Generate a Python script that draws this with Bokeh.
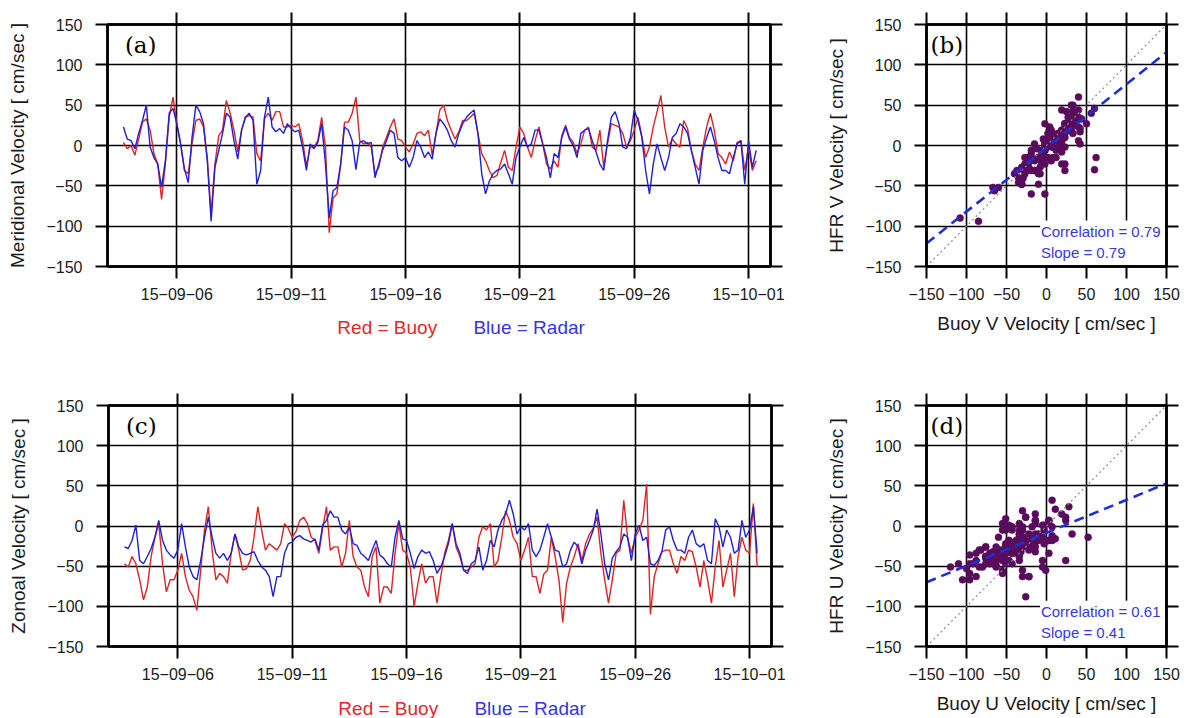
import numpy as np
from bokeh.plotting import figure
from bokeh.models import (LinearAxis, FixedTicker, Label, BoxAnnotation, Range1d,
                          CustomLabelingPolicy)
from bokeh.layouts import column, row
from bokeh.embed import file_html
from bokeh.resources import INLINE

# ---------------- data ----------------
# sampling: every 4 hours starting 2015-09-03 16:00 (x in day-of-September, Oct 1 = 31)
start_day = 3.6667
step_day = 1.0 / 6.0

# Meridional (V) velocity, cm/s
buoy_v = [4, -4, 0, -12, 8, 29, 33, 19, -10, -23, -67, -23, 35, 60, 27, 2, -31, -35, 2, 31, 33, 23, -15, -85, -23,
          12, 19, 56, 40, 19, -8, 19, 35, 37, 35, -10, -19, 33, 40, 31, 42, 42, 23, 23, 25, 23, 27, 6, -25, -2,
          -2, 6, 35, -2, -108,
          -65, -60, -23, 29, 29, 40, 60, 6, 2, 4, -2, -35, -27, -2, 10, 23, 33, 8, 6, -2, -8, 2, 15, 17, 12,
          19, -12, 15, 44, 50, 31, 19, 8, 17, 31, 31, 35, 40, 15, -10, -19, -31, -40, -37, -21, -6, -27, -31, -2,
          23, 15, -2, -15, 6, 23, 2,
          -23, -29, -19, -27, 12, 25, 10, 4, -10, 2, 19, 23, -2, -6, 19, -27, 2, 27, 25, 23, 15, -2, 6, 19, 35,
          12, -15, -2, 23, 42, 62, 23, -2, 8, 2, -2, 31, 21, -6, -23, -31, -2, 23, 40, 19, -10, -15, -23, -8,
          -19, 4, 6, -31, -2, -31, -19]
radar_v = [23, 8, 6, -4, 15, 31, 50, -2, -15, -23, -52, -19, 40, 46, 27, 2, -29, -46, 10, 50, 42, 27, -19, -94,
           -27, -6, 15, 40, 35, 6, -17, 19, 35, 40, 31, -48, -31, 35, 60, 23, 17, 21, 15, 27, 21, 17, 19, -2, -31,
           2, -4, 4, 27, -23, -90,
           -56, -52, -23, 23, 19, 6, -30, 4, 6, 2, 4, -40, -23, -6, 6, 19, 15, -15, -19, -15, -27, -15, 6, -2,
           -15, -8, -17, 15, 33, 27, 19, 6, -2, 15, 27, 35, 40, 44, 15, -35, -60, -44, -35, -31, -29, -23, -35,
           -48, -15, -2, 10, -2, 2, 19, 19, 2,
           -15, -40, -10, -15, 10, 23, 8, 0, -15, 15, 19, 21, 6, -8, -23, -31, 6, 35, 42, 27, -2, -4, 10, 44, 31,
           10, -31, -60, -23, 2, -15, -31, -15, 10, 15, 27, 23, 15, -6, -27, -48, -6, 10, 23, 6, -15, -31, -31,
           -35, -15, 2, 6, -48, 6, -27, -6]

# Zonal (U) velocity, cm/s
buoy_u = [-47, -51, -38, -47, -67, -92, -76, -38, -14, 3, -47, -82, -67, -67, -55, -34, -63, -80, -88, -105, -55,
          -5, 24, -30, -67, -59, -63, -71, -34, -10, -30, -55, -53, -43, -14, 24, -5, -30, -22, -26, -30, -22, 3,
          -3, -14, -7, 7, 11, 3, -14, -18, -34, -3, 24, -30,
          -26, -26, -51, -34, 7, -38, -51, -55, -76, -88, -38, -26, -96, -76, -76, -84, -34, 3, -30, -34, -51,
          -100, -71, -47, -71, -63, -63, -96, -63, -34, -18, 3, -26, -38, -55, -55, -51, -47, -14, -1, -5, 3, -51,
          -43, -14, 19, 7, -14, -22, -43, -30, -14, -63, -63, -84, -60,
          -55, -14, -38, -67, -120, -71, -51, -38, -22, -43, -22, -10, -3, 11, -34, -67, -96, -67, -34, -30, 32,
          -14, -34, -14, -5, 7, 52, -110, -63, -47, -32, -30, -30, -47, -59, -38, -43, -30, -32, -51, -76, -43,
          -67, -96, -51, -18, -76, -55, -34, -88, -38, -14, -30, -34, 28, -51]
radar_u = [-26, -28, -18, 1, -43, -47, -38, -28, -14, 7, -18, -30, -36, -40, -30, 3, -26, -51, -63, -67, -43, -14,
           11, -14, -34, -40, -34, -43, -34, -10, -26, -34, -36, -34, -32, -43, -51, -55, -63, -88, -63, -63, -34,
           -22, -20, -14, -12, -16, -18, -20, -16, -30, 1, 7, 19,
           11, 11, -5, -10, -1, -22, -24, -34, -38, -43, -30, -18, -36, -40, -47, -51, -14, 7, -16, -18, -34, -53,
           -38, -30, -34, -32, -43, -59, -51, -38, -22, 3, -22, -34, -55, -59, -47, -43, -26, -55, -43, -18, -26,
           -5, 7, 15, 32, 15, -10, -1, -5, 3, -30, -38, -30, -14,
           3, -14, -30, -32, -51, -47, -30, -20, -26, -47, -30, -18, -5, 21, -10, -47, -67, -40, -32, -26, -10,
           -14, -43, -10, 1, -18, -14, -47, -49, -43, -32, -5, -1, -18, -30, -30, -34, -14, -5, -22, -26, -22,
           -43, -47, 9, -1, -26, -5, -14, -34, -30, 7, -14, -5, 24, -34]

# statistics printed on the scatter panels
corr_v, slope_v, icpt_v = 0.79, 0.79, -3.0
corr_u, slope_u, icpt_u = 0.61, 0.41, -8.5

# ticks
date_ticks = [6, 11, 16, 21, 26, 31]
date_labels = ["15\u221209\u221206", "15\u221209\u221211", "15\u221209\u221216",
               "15\u221209\u221221", "15\u221209\u221226", "15\u221210\u221201"]
vel_ticks = [-150, -100, -50, 0, 50, 100, 150]
vel_labels = ["\u2212150", "\u2212100", "\u221250", "0", "50", "100", "150"]

# ---------------- styling ----------------
SANS = "Liberation Sans"
SERIF = "DejaVu Serif"
RED = "#dc2424"
BLUE = "#1f1fd6"
PURPLE = "#5a0c5c"
TXT = "#1a1a1a"
DAY_RANGE = (2.97, 31.96)


def make_fig(xr, fw, fh, bl, br, bt, bb):
    p = figure(frame_width=fw, frame_height=fh, x_range=Range1d(*xr), y_range=Range1d(-150, 150),
               min_border_left=bl, min_border_right=br, min_border_top=bt, min_border_bottom=bb,
               output_backend="svg", toolbar_location=None,
               background_fill_color="white", border_fill_color="white",
               outline_line_color="black", outline_line_width=2.5)
    return p


def style_axes(p, xt, xl, yt, yl, xlab, ylab):
    xtk = FixedTicker(ticks=xt, minor_ticks=[])
    ytk = FixedTicker(ticks=yt, minor_ticks=[])
    p.add_layout(LinearAxis(), "above")
    p.add_layout(LinearAxis(), "right")
    for ax in list(p.above) + list(p.below):
        ax.ticker = xtk
    for ax in list(p.left) + list(p.right):
        ax.ticker = ytk
    for ax in list(p.above) + list(p.below) + list(p.left) + list(p.right):
        ax.axis_line_color = "black"
        ax.axis_line_width = 2.5
        ax.major_tick_line_color = "black"
        ax.major_tick_line_width = 2
        ax.major_tick_out = 12
        ax.major_tick_in = 0
        ax.minor_tick_out = 0
        ax.minor_tick_in = 0
        ax.major_label_text_font = SANS
        ax.major_label_text_font_size = "16px"
        ax.major_label_text_color = TXT
        ax.axis_label_text_font = SANS
        ax.axis_label_text_font_size = "19px"
        ax.axis_label_text_font_style = "normal"
        ax.axis_label_text_color = TXT
    # top / right axes: tick marks only, no labels drawn
    for ax in list(p.above) + list(p.right):
        ax.major_label_policy = CustomLabelingPolicy(code="return []")
        ax.major_label_text_font_size = "1px"
        ax.major_label_standoff = 0
    b = p.below[0]
    l = p.left[0]
    b.major_label_overrides = dict(zip(xt, xl))
    l.major_label_overrides = dict(zip(yt, yl))
    b.major_label_standoff = 9
    l.major_label_standoff = 13
    b.axis_label_standoff = 10
    l.axis_label_standoff = 15
    if xlab:
        b.axis_label = xlab
    l.axis_label = ylab
    p.xgrid.ticker = xtk
    p.ygrid.ticker = ytk
    p.grid.grid_line_color = "black"
    p.grid.grid_line_width = 1.6
    p.grid.grid_line_alpha = 1.0


def panel_tag(p, x, y, txt):
    p.add_layout(Label(x=x, y=y, text=txt, text_font=SERIF, text_font_size="23px",
                       text_color="black", text_align="left", text_baseline="middle"))


def timeseries(buoy, radar, ylab, tag, top):
    p = make_fig(DAY_RANGE, 663, 242 if top else 241,
                 107 if top else 108, 46 if top else 45, 24 if top else 47, 40)
    style_axes(p, date_ticks, date_labels, vel_ticks, vel_labels, None, ylab)
    tb = start_day + step_day * np.arange(len(buoy))
    tr = start_day + step_day * np.arange(len(radar))
    p.line(tb, buoy, line_color=RED, line_width=1.4)
    p.line(tr, radar, line_color=BLUE, line_width=1.4)
    panel_tag(p, 3.73, 125, tag)
    return p


def key_strip(height, ytxt, top):
    # strip under a time-series panel carrying the colour key (same frame as the panel)
    s = figure(frame_width=663, frame_height=height, x_range=Range1d(*DAY_RANGE), y_range=Range1d(0, height),
               x_axis_type=None, y_axis_type=None,
               min_border_left=107 if top else 108, min_border_right=46 if top else 45,
               min_border_top=0, min_border_bottom=0, outline_line_color=None,
               output_backend="svg", toolbar_location=None, border_fill_color="white",
               background_fill_color="white")
    s.grid.visible = False
    s.add_layout(Label(x=13.02, y=ytxt, text="Red = Buoy", text_font=SANS, text_font_size="19px",
                       text_color="#e02828", text_align="left", text_baseline="middle"))
    s.add_layout(Label(x=18.97, y=ytxt, text="Blue = Radar", text_font=SANS, text_font_size="19px",
                       text_color="#3535e2", text_align="left", text_baseline="middle"))
    return s


def scatter(buoy, radar, xlab, ylab, tag, corr, slope, icpt, top):
    p = make_fig((-150, 150), 240, 242 if top else 241, 110, 21, 24 if top else 47, 92 if top else 72)
    style_axes(p, vel_ticks, vel_labels, vel_ticks, vel_labels, xlab, ylab)
    n = min(len(buoy), len(radar))
    p.scatter(buoy[:n], radar[:n], size=7, fill_color=PURPLE, line_color=PURPLE, line_width=0.5)
    ends = np.array([-150.0, 150.0])
    p.line(ends, ends, line_color="#8c8c8c", line_width=1.2, line_dash="2 3")
    p.line(ends, icpt + slope * ends, line_color="#1f2fd6", line_width=2.6, line_dash="10 6")
    p.add_layout(BoxAnnotation(left=-8, right=148, bottom=-148, top=-93,
                               fill_color="white", fill_alpha=1.0, line_alpha=0.0))
    p.add_layout(Label(x=-7, y=-107, text="Correlation = %.2f" % corr, text_font=SANS, text_font_size="15px",
                       text_color="#3838dc", text_align="left", text_baseline="middle"))
    p.add_layout(Label(x=-7, y=-133, text="Slope = %.2f" % slope, text_font=SANS, text_font_size="15px",
                       text_color="#3838dc", text_align="left", text_baseline="middle"))
    panel_tag(p, -145, 125, tag)
    return p


pa = timeseries(buoy_v, radar_v, "Meridional Velocity [ cm/sec ]", "(a)", True)
pb = scatter(buoy_v, radar_v, "Buoy V Velocity [ cm/sec ]", "HFR V Velocity [ cm/sec ]", "(b)",
             corr_v, slope_v, icpt_v, True)
pc = timeseries(buoy_u, radar_u, "Zonoal Velocity [ cm/sec ]", "(c)", False)
pd_ = scatter(buoy_u, radar_u, "Buoy U Velocity [ cm/sec ]", "HFR U Velocity [ cm/sec ]", "(d)",
              corr_u, slope_u, icpt_u, False)

# row 1: 24 + 242 + 40 = 306, strip 52 -> 358 ; row 2: 47 + 241 + 40 = 328, strip 32 -> 360
sa = key_strip(52, 31, True)
sc = key_strip(32, 10, False)

layout = column(row(column(pa, sa), pb), row(column(pc, sc), pd_))
open("out.html", "w").write(file_html(layout, INLINE))
